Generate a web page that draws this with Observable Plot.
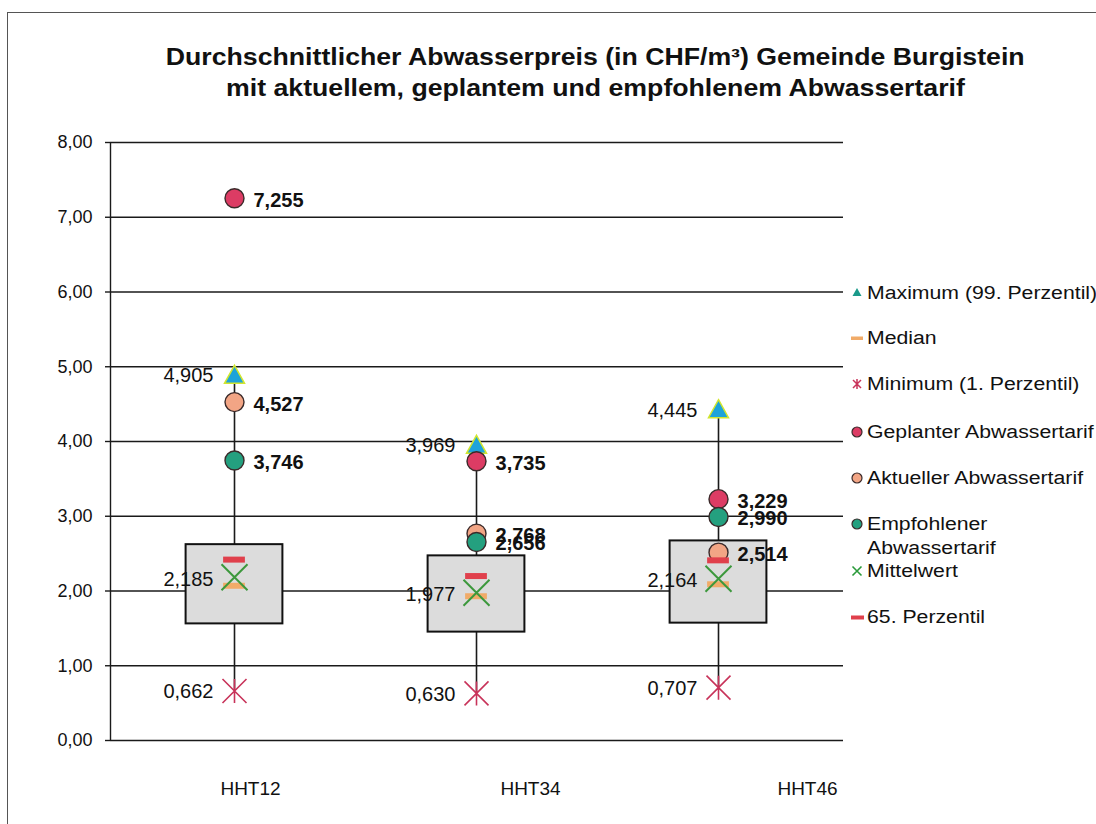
<!DOCTYPE html>
<html>
<head>
<meta charset="utf-8">
<script src="https://cdn.jsdelivr.net/npm/d3@7"></script>
<script src="https://cdn.jsdelivr.net/npm/@observablehq/plot@0.6"></script>
<style>
  html, body { margin: 0; padding: 0; background: #fff; }
  body { width: 1096px; height: 824px; position: relative; overflow: hidden; font-family: "Liberation Sans", Arial, sans-serif; color: #111; }
  #frame { position: absolute; left: 7px; top: 12px; width: 1200px; height: 900px; border-left: 1.5px solid #555; border-top: 1.5px solid #555; }
  #title { position: absolute; left: 595px; top: 42px; width: 1000px; margin-left: -500px; text-align: center; font-weight: bold; font-size: 23px; line-height: 31px; }
  #title span { display: inline-block; transform: scaleX(1.16); transform-origin: center; white-space: nowrap; }
  #chart { position: absolute; left: 0; top: 120px; }
  .leg { position: absolute; left: 849px; height: 24px; display: flex; align-items: center; font-size: 18px; white-space: nowrap; }
  .leg svg { width: 16px; height: 16px; flex: none; }
  .leg span { display: inline-block; transform: scaleX(1.18); transform-origin: left center; margin-left: 2px; line-height: 24px; }
</style>
</head>
<body>
<div id="frame"></div>
<div id="title"><span>Durchschnittlicher Abwasserpreis (in CHF/m³) Gemeinde Burgistein</span><br><span>mit aktuellem, geplantem und empfohlenem Abwassertarif</span></div>
<div id="chart"></div>
<div id="legend"></div>
<script>
// ---- data ----
const categories = ["HHT12", "HHT34", "HHT46"];
const maximum    = [4.905, 3.969, 4.445];   // 99. Perzentil
const minimum    = [0.662, 0.630, 0.707];   // 1. Perzentil
const mittelwert = [2.185, 1.977, 2.164];
const median     = [2.07, 1.93, 2.09];
const perzentil65 = [2.42, 2.20, 2.41];
const quartil1   = [1.56, 1.45, 1.57];
const quartil3   = [2.62, 2.47, 2.67];
const geplant    = [7.255, 3.735, 3.229];
const aktuell    = [4.527, 2.768, 2.514];
const empfohlen  = [3.746, 2.656, 2.990];
const yTicks     = [0, 1, 2, 3, 4, 5, 6, 7, 8];
const legendLabels = ["Maximum (99. Perzentil)", "Median", "Minimum (1. Perzentil)", "Geplanter Abwassertarif",
  "Aktueller Abwassertarif", "Empfohlener<br>Abwassertarif", "Mittelwert", "65. Perzentil"];

const rows = categories.map((c, i) => ({
  cat: c, i, max: maximum[i], min: minimum[i], mean: mittelwert[i], median: median[i],
  p65: perzentil65[i], q1: quartil1[i], q3: quartil3[i],
  geplant: geplant[i], aktuell: aktuell[i], empfohlen: empfohlen[i]
}));

const fmt3 = v => v.toFixed(3).replace(".", ",");
const fmt2 = v => v.toFixed(2).replace(".", ",");
const FONT = "Liberation Sans, Arial, sans-serif";
const xDomain = [-0.5124, 2.5165];

// custom symbols
const symX = { draw(ctx, size) { const h = Math.sqrt(size / Math.PI); ctx.moveTo(-h, -h); ctx.lineTo(h, h); ctx.moveTo(-h, h); ctx.lineTo(h, -h); } };
const symAst = { draw(ctx, size) { const h = Math.sqrt(size / Math.PI); ctx.moveTo(-h, -h); ctx.lineTo(h, h); ctx.moveTo(-h, h); ctx.lineTo(h, -h); ctx.moveTo(0, -h); ctx.lineTo(0, h); } };
const symTri = { draw(ctx, size) { const h = Math.sqrt(size / Math.PI); ctx.moveTo(0, -h * 0.85); ctx.lineTo(h, h * 0.95); ctx.lineTo(-h, h * 0.95); ctx.closePath(); } };

const circleStyle = { r: 9.5, stroke: "#3a2a2a", strokeWidth: 1.4 };
const boldLabel = { textAnchor: "start", dx: 19, dy: 2, fontSize: 20, fontWeight: "bold", fill: "#111", fontFamily: FONT };
const leftLabel = { textAnchor: "end", dx: -21, dy: 2, fontSize: 20, fill: "#111", fontFamily: FONT };
const labelDx = [16, 54, 89];

const chart = Plot.plot({
  width: 1096, height: 690,
  marginTop: 22, marginBottom: 70, marginLeft: 110, marginRight: 253,
  style: { fontFamily: FONT, background: "transparent" },
  x: { type: "linear", domain: xDomain, axis: null },
  y: { domain: [0, 8], axis: null },
  marks: [
    Plot.ruleY(yTicks, { stroke: "#1a1a1a", strokeWidth: 1.4 }),
    Plot.ruleX([xDomain[0]], { y1: 0, y2: 8, stroke: "#1a1a1a", strokeWidth: 1.4 }),
    Plot.axisY({ ticks: yTicks, tickSize: 5, tickFormat: () => "", stroke: "#1a1a1a", strokeWidth: 1.4 }),
    Plot.text(yTicks, { x: () => xDomain[0], y: d => d, text: fmt2, textAnchor: "end", dx: -18, fontSize: 18, fill: "#111", ariaLabel: "ytick" }),
    ...categories.map((c, k) => Plot.text([rows[k]], { x: "i", y: () => 0, text: "cat", dy: 48, dx: labelDx[k], fontSize: 19, fill: "#111", ariaLabel: "cat-label" })),
    Plot.ruleX(rows, { x: "i", y1: "min", y2: "max", stroke: "#1a1a1a", strokeWidth: 1.6 }),
    Plot.rect(rows, { x1: d => d.i - 0.2, x2: d => d.i + 0.2, y1: "q1", y2: "q3", fill: "#dcdcdc", stroke: "#111", strokeWidth: 2 }),
    Plot.dot(rows, { x: "i", y: "max", symbol: symTri, r: 10, fill: "#1ea3da", stroke: "#d2e62e", strokeWidth: 1.5 }),
    Plot.dot(rows, { x: "i", y: "geplant", fill: "#dc3c64", ...circleStyle }),
    Plot.dot(rows, { x: "i", y: "aktuell", fill: "#f2a585", ...circleStyle }),
    Plot.dot(rows, { x: "i", y: "empfohlen", fill: "#24a07f", ...circleStyle }),
    Plot.ruleY(rows, { y: "median", x1: d => d.i - 0.045, x2: d => d.i + 0.045, stroke: "#f1ab68", strokeWidth: 6 }),
    Plot.dot(rows, { x: "i", y: "mean", symbol: symX, r: 13, stroke: "#3c983c", strokeWidth: 2 }),
    Plot.ruleY(rows, { y: "p65", x1: d => d.i - 0.045, x2: d => d.i + 0.045, stroke: "#e0404c", strokeWidth: 6 }),
    Plot.dot(rows, { x: "i", y: "min", symbol: symAst, r: 12, stroke: "#c8335a", strokeWidth: 1.6 }),
    Plot.text(rows, { x: "i", y: "max", text: d => fmt3(d.max), ...leftLabel }),
    Plot.text(rows, { x: "i", y: "mean", text: d => fmt3(d.mean), ...leftLabel }),
    Plot.text(rows, { x: "i", y: "min", text: d => fmt3(d.min), ...leftLabel, dy: 1 }),
    Plot.text(rows, { x: "i", y: "geplant", text: d => fmt3(d.geplant), ...boldLabel }),
    Plot.text(rows, { x: "i", y: "aktuell", text: d => fmt3(d.aktuell), ...boldLabel }),
    Plot.text(rows, { x: "i", y: "empfohlen", text: d => fmt3(d.empfohlen), ...boldLabel })
  ]
});

// horizontal stretch of axis / category texts (scan is wider than the font)
function stretch(svg, sel, s) {
  svg.querySelectorAll(sel).forEach(t => {
    let tr = t.getAttribute("transform") || "";
    const x = t.getAttribute("x"), y = t.getAttribute("y");
    if (x != null || y != null) { tr += ` translate(${x || 0},${y || 0})`; t.removeAttribute("x"); t.removeAttribute("y"); }
    t.setAttribute("transform", tr + ` scale(${s},1)`);
  });
}
stretch(chart, 'g[aria-label="ytick"] text', 1.2);
stretch(chart, 'g[aria-label="cat-label"] text', 1.1);
document.getElementById("chart").appendChild(chart);

// ---- legend ----
const legTops = [293, 338, 384, 432, 478, 536, 571, 617];
const legMarkers = [
  '<path d="M8 3 L12.5 11 L3.5 11 Z" fill="#1a9a8a"/>',
  '<rect x="2" y="6.5" width="12" height="3.5" fill="#f1ab68"/>',
  '<path d="M4 4 L12 12 M4 12 L12 4 M8 3 L8 13" stroke="#c8335a" stroke-width="1.5"/>',
  '<circle cx="8" cy="8" r="5" fill="#dc3c64" stroke="#3a2a2a" stroke-width="1.2"/>',
  '<circle cx="8" cy="8" r="5" fill="#f2a585" stroke="#3a2a2a" stroke-width="1.2"/>',
  '<circle cx="8" cy="8" r="5" fill="#24a07f" stroke="#3a2a2a" stroke-width="1.2"/>',
  '<path d="M3.5 3.5 L12.5 12.5 M3.5 12.5 L12.5 3.5" stroke="#2a9a3a" stroke-width="1.6"/>',
  '<rect x="2" y="6.5" width="13" height="4" fill="#e0404c"/>'
];
const legend = document.getElementById("legend");
legendLabels.forEach((lab, k) => {
  const d = document.createElement("div");
  d.className = "leg";
  const two = lab.includes("<br>");
  d.style.top = (legTops[k] - (two ? 24 : 12)) + "px";
  d.style.height = two ? "48px" : "24px";
  d.style.alignItems = two ? "flex-start" : "center";
  d.innerHTML = `<svg viewBox="0 0 16 16" style="margin-top:${two ? 4 : 0}px">${legMarkers[k]}</svg><span>${lab}</span>`;
  legend.appendChild(d);
});
</script>
</body>
</html>
